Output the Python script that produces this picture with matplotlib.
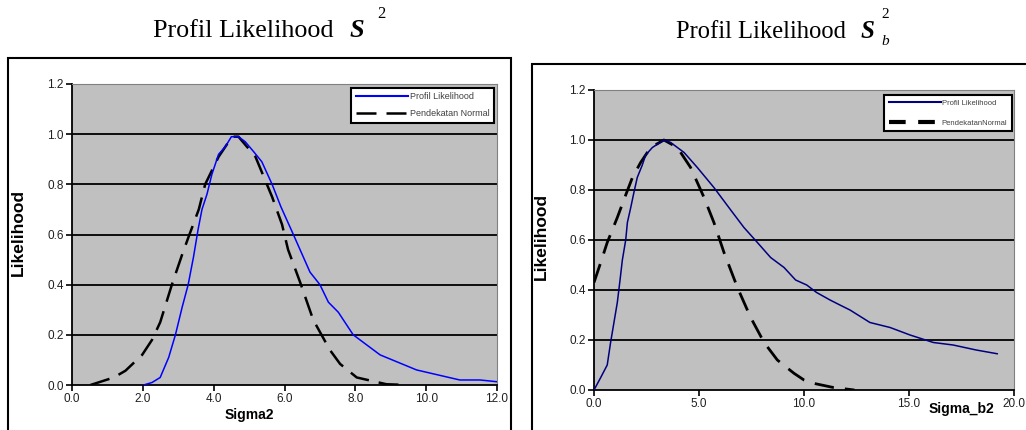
import matplotlib.pyplot as plt
from matplotlib.patches import Rectangle
from matplotlib.lines import Line2D

W, H = 1026, 430

# Sigma2 - profil likelihood
s2_x = [2.02, 2.26, 2.49, 2.73, 2.92, 3.11, 3.28, 3.43, 3.56, 3.67, 3.81, 3.95, 4.14,
        4.33, 4.50, 4.70, 4.89, 5.13, 5.36, 5.65, 5.90, 6.25, 6.72, 7.00, 7.24, 7.52,
        7.94, 8.70, 9.73, 10.95, 11.52, 12.0]
s2_profil = [0.0, 0.01, 0.03, 0.11, 0.20, 0.31, 0.40, 0.51, 0.62, 0.70, 0.76, 0.84, 0.92,
             0.95, 0.99, 0.99, 0.97, 0.93, 0.89, 0.80, 0.71, 0.60, 0.45, 0.40, 0.33, 0.29,
             0.20, 0.12, 0.06, 0.02, 0.02, 0.013]
# Sigma2 - pendekatan normal
s2_nx = [0.52, 1.18, 1.51, 1.98, 2.26, 2.49, 2.82, 3.11, 3.29, 3.58, 3.76, 4.14, 4.52,
         4.70, 5.18, 5.65, 5.93, 6.10, 6.44, 6.81, 7.28, 7.57, 8.04, 8.88, 9.5]
s2_normal = [0.0, 0.03, 0.057, 0.12, 0.18, 0.25, 0.40, 0.52, 0.59, 0.70, 0.80, 0.91, 0.99,
             0.99, 0.91, 0.75, 0.64, 0.54, 0.41, 0.26, 0.14, 0.084, 0.03, 0.003, 0.0]

# Sigma_b2 - profil likelihood
sb2_x = [0.0, 0.32, 0.63, 0.79, 0.95, 1.11, 1.24, 1.35, 1.51, 1.59, 1.75, 1.90, 2.06,
         2.30, 2.46, 2.78, 3.33, 3.65, 4.29, 4.92, 5.71, 6.51, 7.14, 7.78, 8.41, 9.05,
         9.60, 10.13, 10.6, 11.24, 11.71, 12.19, 13.14, 14.1, 15.05, 16.16, 17.1, 18.2, 19.2]
sb2_profil = [0.0, 0.05, 0.10, 0.19, 0.27, 0.35, 0.44, 0.52, 0.60, 0.67, 0.73, 0.79, 0.85,
              0.90, 0.94, 0.97, 1.0, 0.99, 0.95, 0.89, 0.81, 0.72, 0.65, 0.59, 0.53, 0.49,
              0.44, 0.42, 0.39, 0.36, 0.34, 0.32, 0.27, 0.25, 0.22, 0.19, 0.18, 0.16, 0.145]
# Sigma_b2 - pendekatan normal
sb2_nx = [0.0, 0.32, 0.63, 1.11, 1.51, 1.83, 2.22, 2.70, 3.33, 3.97, 4.60, 5.24, 5.71,
          6.19, 6.83, 7.46, 8.10, 8.73, 9.52, 10.0, 10.44, 11.4, 12.4]
sb2_normal = [0.43, 0.51, 0.59, 0.69, 0.78, 0.85, 0.91, 0.97, 1.0, 0.97, 0.89, 0.77, 0.67,
              0.55, 0.41, 0.29, 0.19, 0.12, 0.067, 0.04, 0.027, 0.01, 0.0]

y_ticks = [0.0, 0.2, 0.4, 0.6, 0.8, 1.0, 1.2]
s2_xticks = [0, 2, 4, 6, 8, 10, 12]
sb2_xticks = [0, 5, 10, 15, 20]

plt.rcParams['font.family'] = ['Liberation Sans', 'DejaVu Sans']

fig = plt.figure(figsize=(W / 100, H / 100), dpi=100)


def fx(x):
    return x / W


def fy(y):
    return 1 - y / H


def style_axes(ax, xticks, xmax):
    ax.set_facecolor('#c0c0c0')
    ax.set_xlim(0, xmax)
    ax.set_ylim(0, 1.2)
    ax.set_xticks(xticks)
    ax.set_xticklabels([f'{t:.1f}' for t in xticks])
    ax.set_yticks(y_ticks)
    ax.set_yticklabels([f'{t:.1f}' for t in y_ticks])
    for t in y_ticks[1:-1]:
        ax.axhline(t, color='black', lw=1.3, zorder=1)
    ax.spines['top'].set_color('#808080')
    ax.spines['right'].set_color('#808080')
    ax.spines['left'].set_linewidth(1.3)
    ax.spines['bottom'].set_linewidth(1.3)
    ax.tick_params(direction='out', length=4, width=1.2, labelsize=8.5, pad=2,
                   labelcolor='#202020')
    ax.set_ylabel('Likelihood', fontsize=12.5, fontweight='bold')


# left chart
ax1 = fig.add_axes([fx(72), fy(385), fx(497) - fx(72), fy(84) - fy(385)])
style_axes(ax1, s2_xticks, 12)
ax1.plot(s2_nx, s2_normal, color='black', lw=1.8, dashes=(8, 4), zorder=3)
ax1.plot(s2_x, s2_profil, color='#0000ff', lw=1.1, zorder=4)
ax1.set_xlabel('Sigma2', fontsize=10, fontweight='bold')
ax1.xaxis.set_label_coords(0.418, -0.10)
ax1.xaxis.label.set_va('center')
ax1.yaxis.set_label_coords(-0.109, 0.505)

h1 = [Line2D([], [], color='#0000ff', lw=1.5),
      Line2D([], [], color='black', lw=1.8, dashes=(8, 4))]
leg1 = ax1.legend(h1, ['Profil Likelihood', 'Pendekatan Normal'], loc='upper right',
                  bbox_to_anchor=(0.993, 0.988), fontsize=6.5, handlelength=5.8,
                  handletextpad=0.2, labelspacing=0.9, borderpad=0.5, fancybox=False,
                  framealpha=1, edgecolor='black', borderaxespad=0)
leg1.get_frame().set_linewidth(1.5)
for t in leg1.get_texts():
    t.set_color('#404040')

# right chart
ax2 = fig.add_axes([fx(594), fy(390), fx(1014) - fx(594), fy(90) - fy(390)])
style_axes(ax2, sb2_xticks, 20)
ax2.plot(sb2_nx, sb2_normal, color='black', lw=2.0, dashes=(7, 4), zorder=3)
ax2.plot(sb2_x, sb2_profil, color='#000080', lw=1.1, zorder=4)
ax2.set_xlabel('Sigma_b2', fontsize=10, fontweight='bold')
ax2.xaxis.set_label_coords(0.875, -0.063)
ax2.xaxis.label.set_va('center')
ax2.yaxis.set_label_coords(-0.107, 0.513)

h2 = [Line2D([], [], color='#000080', lw=1.5),
      Line2D([], [], color='black', lw=3, dashes=(4, 3))]
leg2 = ax2.legend(h2, ['Profil Likelihood', 'PendekatanNormal'], loc='upper right',
                  bbox_to_anchor=(0.995, 0.983), fontsize=5.5, handlelength=6.8,
                  handletextpad=0.1, labelspacing=1.6, borderpad=0.6, fancybox=False,
                  framealpha=1, edgecolor='black', borderaxespad=0)
leg2.get_frame().set_linewidth(1.5)
for t in leg2.get_texts():
    t.set_color('#404040')

# outer chart frames
fig.patches.append(Rectangle((fx(8), fy(445)), fx(511) - fx(8), fy(58) - fy(445),
                             fill=False, lw=1.5, edgecolor='black', transform=fig.transFigure))
fig.patches.append(Rectangle((fx(532), fy(445)), fx(1040) - fx(532), fy(64) - fy(445),
                             fill=False, lw=1.5, edgecolor='black', transform=fig.transFigure))

# titles
serif = ['Liberation Serif', 'DejaVu Serif']
fig.text(fx(153), fy(37), 'Profil Likelihood', fontsize=18.8, family=serif, va='baseline')
fig.text(fx(350), fy(37), 'S', fontsize=19, family=serif, fontweight='bold',
         style='italic', va='baseline')
fig.text(fx(377), fy(18), '2', fontsize=12, family=serif, va='baseline')

fig.text(fx(676), fy(38), 'Profil Likelihood', fontsize=17.7, family=serif, va='baseline')
fig.text(fx(861), fy(38), 'S', fontsize=18, family=serif, fontweight='bold',
         style='italic', va='baseline')
fig.text(fx(881), fy(18), '2', fontsize=11, family=serif, va='baseline')
fig.text(fx(881), fy(45), 'b', fontsize=11, family=serif, style='italic', va='baseline')

fig.savefig('out.png', dpi=100)
